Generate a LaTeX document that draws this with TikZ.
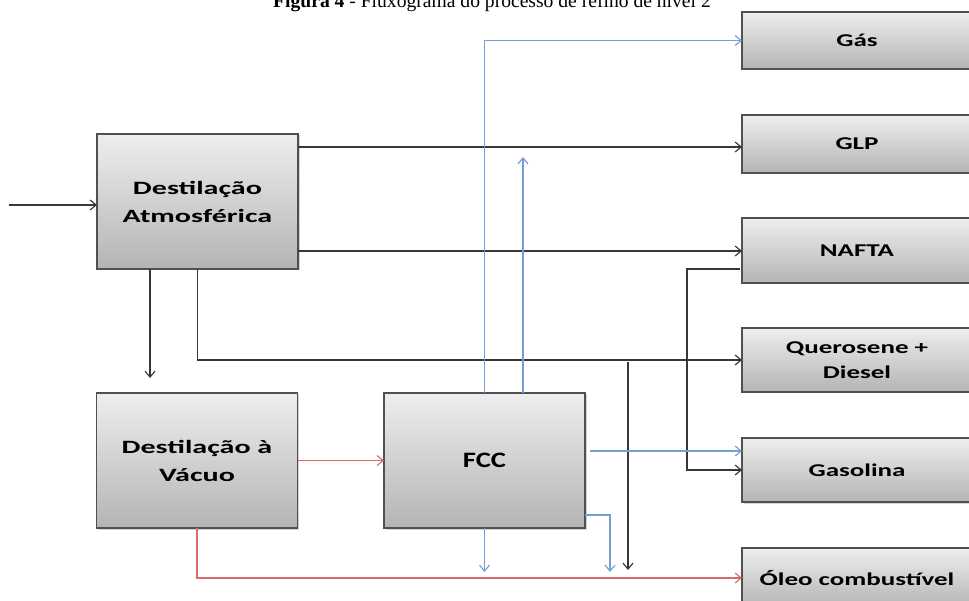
\documentclass[tikz,border=0pt]{standalone}
\usepackage{fontspec}
\setmainfont{Liberation Serif}
\newfontfamily\rboxfont[FakeStretch=1.5]{Carlito}
\newfontfamily\lboxfont[FakeStretch=1.6]{Carlito}
\newfontfamily\fccfont[FakeStretch=1.3]{Carlito}
\usetikzlibrary{arrows.meta,shadows}
\definecolor{lnblue}{RGB}{118,158,214}
\definecolor{lnred}{RGB}{214,108,108}
\definecolor{lnblack}{RGB}{55,55,55}
\definecolor{boxedge}{RGB}{80,80,80}
\definecolor{boxtop}{RGB}{238,238,238}
\definecolor{boxbot}{RGB}{180,180,180}
\tikzset{
  unit/.style={draw=boxedge, line width=1.2pt, top color=boxtop, bottom color=boxbot,
    drop shadow={shadow xshift=1.5pt, shadow yshift=-1.5pt, opacity=0.35},
    inner sep=0pt, outer sep=0pt, align=center},
  leftunit/.style={unit, minimum width=201pt, minimum height=135pt,
    font=\lboxfont\bfseries\fontsize{18.8}{28}\selectfont},
  fccunit/.style={unit, minimum width=201pt, minimum height=135pt,
    font=\fccfont\bfseries\fontsize{22}{26}\selectfont},
  produnit/.style={unit, minimum width=230pt,
    font=\rboxfont\bfseries\fontsize{18}{25}\selectfont},
  flow/.style={line width=1.15pt, -{Straight Barb[length=6pt,width=10pt]}},
  flowk/.style={flow, draw=lnblack},
  flowb/.style={flow, draw=lnblue},
  flowr/.style={flow, draw=lnred},
}
\begin{document}
\begin{tikzpicture}[x=1pt,y=-1pt]
\useasboundingbox (0,0) rectangle (969,601);
% title (cut at top edge, as in the reference)
\node[anchor=base, inner sep=0pt, font=\fontsize{19.6}{22}\selectfont] (title) at (492,7.5)
  {\textbf{Figura 4} - Fluxograma do processo de refino de nível 2};
% process units
\node[leftunit] (atm) at (197.5,201.5) {Destilação\\Atmosférica};
\node[leftunit] (vac) at (197,460.5) {Destilação à\\Vácuo};
\node[fccunit] (fcc) at (484.5,460.5) {FCC};
% products
\node[produnit, minimum height=57pt] (gas)  at (857,40.5)  {Gás};
\node[produnit, minimum height=58pt] (glp)  at (857,144)   {GLP};
\node[produnit, minimum height=65pt] (naf)  at (857,250.5) {NAFTA};
\node[produnit, minimum height=64pt] (que)  at (857,360)   {Querosene +\\Diesel};
\node[produnit, minimum height=64pt] (gasl) at (857,470)   {Gasolina};
\node[produnit, minimum height=60pt] (oleo) at (857,578)   {Óleo combustível};
% free ends
\coordinate (feed) at (9,205);
\coordinate (up) at (523,157);
\coordinate (dn2) at (610,572);
\coordinate (k1) at (628,362);
\coordinate (k2) at (628,570);
% black connectors
\draw[flowk] (feed) -- (feed -| atm.west);
\draw[flowk] ([yshift=-13pt]atm.north east) coordinate (a1) -- (a1 -| glp.west);
\draw[flowk] ([yshift=18pt]atm.south east) coordinate (a2) -- (a2 -| naf.west);
\draw[flowk] ([xshift=-47.5pt]atm.south) -- ([xshift=-47pt,yshift=15pt]vac.north);
\draw[flowk] (atm.south) |- (que.west);
\draw[flowk] (k1) -- (k2);
\draw[flowk] ([yshift=-18.5pt,xshift=-2pt]naf.west) -- ++(-53,0) |- (gasl.west);
% red connectors
\draw[flowr] (vac.east) -- (fcc.west);
\draw[flowr] (vac.south) |- (oleo.west);
% blue connectors
\draw[flowb] (fcc.north) |- (gas.west);
\draw[flowb] (up |- fcc.north) -- (up);
\draw[flowb] ([xshift=5pt,yshift=9.5pt]fcc.east) coordinate (b1) -- (b1 -| gasl.west);
\draw[flowb] (fcc.south) -- ++(0,44);
\draw[flowb] ([yshift=-54.5pt]fcc.east) -| (dn2);
\end{tikzpicture}
\end{document}
